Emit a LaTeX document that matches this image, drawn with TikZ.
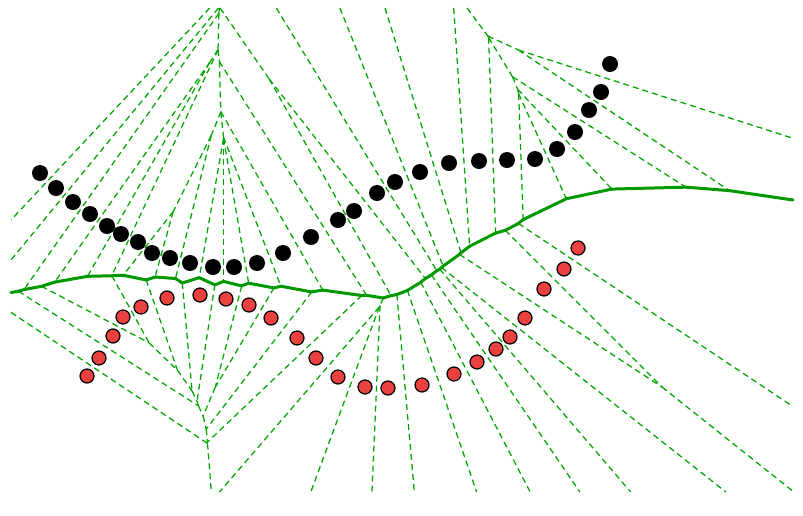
\documentclass[tikz,border=0pt]{standalone}
\definecolor{vgreen}{RGB}{0,165,0}
\definecolor{vred}{RGB}{235,64,64}
\tikzset{
 vordash/.style={draw=vgreen, line width=1.25pt, dash pattern=on 6pt off 4pt},
 vorsolid/.style={draw=vgreen!92!black, line width=3pt, line cap=round, line join=round},
 bdot/.style={circle, fill=black, inner sep=0pt, minimum size=16pt},
 rdot/.style={circle, fill=vred, draw=black, line width=1.2pt, inner sep=0pt, minimum size=14pt},
}
\ExplSyntaxOn
\int_new:N \g_vor_n_int
\fparray_new:Nn \g_vor_x_fparray {100}
\fparray_new:Nn \g_vor_y_fparray {100}
\fparray_new:Nn \g_vor_s_fparray {100}
\intarray_new:Nn \g_vor_c_intarray {100}
\tl_new:N \g_vor_dash_tl
\tl_new:N \g_vor_solid_tl
\tl_new:N \g_vor_dots_tl
\tl_new:N \l_vor_i_tl
\tl_new:N \l_vor_j_tl
\tl_new:N \l_vor_k_tl
\fp_new:N \l_vor_xi_fp
\fp_new:N \l_vor_yi_fp
\fp_new:N \l_vor_si_fp
\fp_new:N \l_vor_dx_fp
\fp_new:N \l_vor_dy_fp
\fp_new:N \l_vor_mx_fp
\fp_new:N \l_vor_my_fp
\fp_new:N \l_vor_lo_fp
\fp_new:N \l_vor_hi_fp
\fp_new:N \l_vor_a_fp
\fp_new:N \l_vor_b_fp
\fp_new:N \l_vor_ex_fp
\fp_new:N \l_vor_ey_fp
\bool_new:N \l_vor_alive_bool
\fp_const:Nn \c_vor_xmin_fp {11}
\fp_const:Nn \c_vor_xmax_fp {793}
\fp_const:Nn \c_vor_ymin_fp {8}
\fp_const:Nn \c_vor_ymax_fp {492}

\cs_new_protected:Npn \vorpt #1#2#3
 {
  \int_gincr:N \g_vor_n_int
  \fparray_gset:Nnn \g_vor_x_fparray {\g_vor_n_int} {#1}
  \fparray_gset:Nnn \g_vor_y_fparray {\g_vor_n_int} {#2}
  \fparray_gset:Nnn \g_vor_s_fparray {\g_vor_n_int} {(#1)*(#1)+(#2)*(#2)}
  \intarray_gset:Nnn \g_vor_c_intarray {\g_vor_n_int} {#3}
  \tl_gput_right:Nx \g_vor_dots_tl
   {
    \exp_not:N \node [ \int_compare:nNnTF {#3} = {0} {bdot} {rdot} ]
     ~(p\int_use:N \g_vor_n_int)~at~(#1,#2)~{};
   }
 }

\cs_new_protected:Npn \vor_apply:nn #1#2
 {
  \fp_set:Nn \l_vor_a_fp {#1}
  \fp_set:Nn \l_vor_b_fp {#2}
  \fp_compare:nNnTF \l_vor_a_fp > {0}
   { \fp_set:Nn \l_vor_hi_fp { min(\l_vor_hi_fp, \l_vor_b_fp / \l_vor_a_fp) } }
   {
    \fp_compare:nNnTF \l_vor_a_fp < {0}
     { \fp_set:Nn \l_vor_lo_fp { max(\l_vor_lo_fp, \l_vor_b_fp / \l_vor_a_fp) } }
     { \fp_compare:nNnT \l_vor_b_fp < {0} { \fp_set:Nn \l_vor_lo_fp {1e9} } }
   }
 }

\cs_new_protected:Npn \vor_pair:nn #1#2
 {
  \fp_set:Nn \l_vor_xi_fp { \fparray_item:Nn \g_vor_x_fparray {#1} }
  \fp_set:Nn \l_vor_yi_fp { \fparray_item:Nn \g_vor_y_fparray {#1} }
  \fp_set:Nn \l_vor_si_fp { \fparray_item:Nn \g_vor_s_fparray {#1} }
  \fp_set:Nn \l_vor_dx_fp { \fparray_item:Nn \g_vor_x_fparray {#2} - \l_vor_xi_fp }
  \fp_set:Nn \l_vor_dy_fp { \fparray_item:Nn \g_vor_y_fparray {#2} - \l_vor_yi_fp }
  \fp_set:Nn \l_vor_mx_fp { \l_vor_xi_fp + \l_vor_dx_fp / 2 }
  \fp_set:Nn \l_vor_my_fp { \l_vor_yi_fp + \l_vor_dy_fp / 2 }
  \fp_set:Nn \l_vor_lo_fp { -1e9 }
  \fp_set:Nn \l_vor_hi_fp { 1e9 }
  \bool_set_true:N \l_vor_alive_bool
  \vor_apply:nn { -\l_vor_dy_fp } { \c_vor_xmax_fp - \l_vor_mx_fp }
  \vor_apply:nn { \l_vor_dy_fp } { \l_vor_mx_fp - \c_vor_xmin_fp }
  \vor_apply:nn { \l_vor_dx_fp } { \c_vor_ymax_fp - \l_vor_my_fp }
  \vor_apply:nn { -\l_vor_dx_fp } { \l_vor_my_fp - \c_vor_ymin_fp }
  \fp_compare:nNnF \l_vor_lo_fp < \l_vor_hi_fp { \bool_set_false:N \l_vor_alive_bool }
  \int_step_variable:nNn { \g_vor_n_int } \l_vor_k_tl
   {
    \bool_if:NT \l_vor_alive_bool
     {
      \bool_lazy_or:nnF
       { \int_compare_p:nNn {\l_vor_k_tl} = {#1} }
       { \int_compare_p:nNn {\l_vor_k_tl} = {#2} }
       {
        \fp_set:Nn \l_vor_ex_fp { \fparray_item:Nn \g_vor_x_fparray {\l_vor_k_tl} - \l_vor_xi_fp }
        \fp_set:Nn \l_vor_ey_fp { \fparray_item:Nn \g_vor_y_fparray {\l_vor_k_tl} - \l_vor_yi_fp }
        \vor_apply:nn
         { \l_vor_ey_fp * \l_vor_dx_fp - \l_vor_ex_fp * \l_vor_dy_fp }
         { (\fparray_item:Nn \g_vor_s_fparray {\l_vor_k_tl} - \l_vor_si_fp) / 2
           - \l_vor_ex_fp * \l_vor_mx_fp - \l_vor_ey_fp * \l_vor_my_fp }
        \fp_compare:nNnF \l_vor_lo_fp < \l_vor_hi_fp { \bool_set_false:N \l_vor_alive_bool }
       }
     }
   }
  \bool_if:NT \l_vor_alive_bool
   {
    \fp_compare:nNnT
     { (\l_vor_hi_fp - \l_vor_lo_fp) * sqrt(\l_vor_dx_fp * \l_vor_dx_fp + \l_vor_dy_fp * \l_vor_dy_fp) } > {0.05}
     {
      \int_compare:nNnTF
       { \intarray_item:Nn \g_vor_c_intarray {#1} } = { \intarray_item:Nn \g_vor_c_intarray {#2} }
       { \vor_out:Nn \g_vor_dash_tl {vordash} }
       { \vor_out:Nn \g_vor_solid_tl {vorsolid} }
     }
   }
 }

\cs_new_protected:Npn \vor_out:Nn #1#2
 {
  \tl_gput_right:Nx #1
   {
    \exp_not:N \draw [#2]
     ( \fp_to_decimal:n { round(\l_vor_mx_fp - \l_vor_dy_fp * \l_vor_lo_fp, 2) } ,
       \fp_to_decimal:n { round(\l_vor_my_fp + \l_vor_dx_fp * \l_vor_lo_fp, 2) } )
     -- ( \fp_to_decimal:n { round(\l_vor_mx_fp - \l_vor_dy_fp * \l_vor_hi_fp, 2) } ,
          \fp_to_decimal:n { round(\l_vor_my_fp + \l_vor_dx_fp * \l_vor_hi_fp, 2) } ) ;
   }
 }

\cs_new_protected:Npn \vorcompute
 {
  \int_step_variable:nnNn {1} {\g_vor_n_int - 1} \l_vor_i_tl
   {
    \int_step_variable:nnNn {\l_vor_i_tl + 1} {\g_vor_n_int} \l_vor_j_tl
     { \vor_pair:nn {\l_vor_i_tl} {\l_vor_j_tl} }
   }
 }
\cs_new_protected:Npn \vordrawdash { \tl_use:N \g_vor_dash_tl }
\cs_new_protected:Npn \vordrawsolid { \tl_use:N \g_vor_solid_tl }
\cs_new_protected:Npn \vordrawdots { \tl_use:N \g_vor_dots_tl }
\ExplSyntaxOff

% black points (class 0)
\vorpt{40}{173}{0}\vorpt{56}{188}{0}\vorpt{73}{202}{0}\vorpt{90}{214}{0}
\vorpt{107}{226}{0}\vorpt{121}{234}{0}\vorpt{138}{242}{0}\vorpt{152}{253}{0}
\vorpt{170}{258}{0}\vorpt{190}{263}{0}\vorpt{213}{267}{0}\vorpt{234}{267}{0}
\vorpt{257}{263}{0}\vorpt{283}{253}{0}\vorpt{311}{237}{0}\vorpt{338}{220}{0}
\vorpt{354}{211}{0}\vorpt{377}{193}{0}\vorpt{395}{182}{0}\vorpt{420}{172}{0}
\vorpt{449}{163}{0}\vorpt{479}{161}{0}\vorpt{507}{160}{0}\vorpt{535}{159}{0}
\vorpt{557}{149}{0}\vorpt{575}{132}{0}\vorpt{589}{110}{0}\vorpt{601}{92}{0}
\vorpt{610}{64}{0}
% red points (class 1)
\vorpt{87}{376}{1}\vorpt{99}{358}{1}\vorpt{113}{336}{1}\vorpt{123}{317}{1}
\vorpt{141}{307}{1}\vorpt{167}{298}{1}\vorpt{200}{295}{1}\vorpt{226}{299}{1}
\vorpt{249}{305}{1}\vorpt{271}{318}{1}\vorpt{297}{338}{1}\vorpt{316}{358}{1}
\vorpt{338}{377}{1}\vorpt{365}{387}{1}\vorpt{388}{388}{1}\vorpt{422}{385}{1}
\vorpt{454}{374}{1}\vorpt{477}{362}{1}\vorpt{496}{349}{1}\vorpt{510}{337}{1}
\vorpt{525}{318}{1}\vorpt{544}{289}{1}\vorpt{564}{269}{1}\vorpt{578}{248}{1}

\vorcompute

\begin{document}
\begin{tikzpicture}[x=1pt,y=-1pt]
\useasboundingbox (0,0) rectangle (803,515);
\vordrawdash
\vordrawsolid
\vordrawdots
\end{tikzpicture}
\end{document}
